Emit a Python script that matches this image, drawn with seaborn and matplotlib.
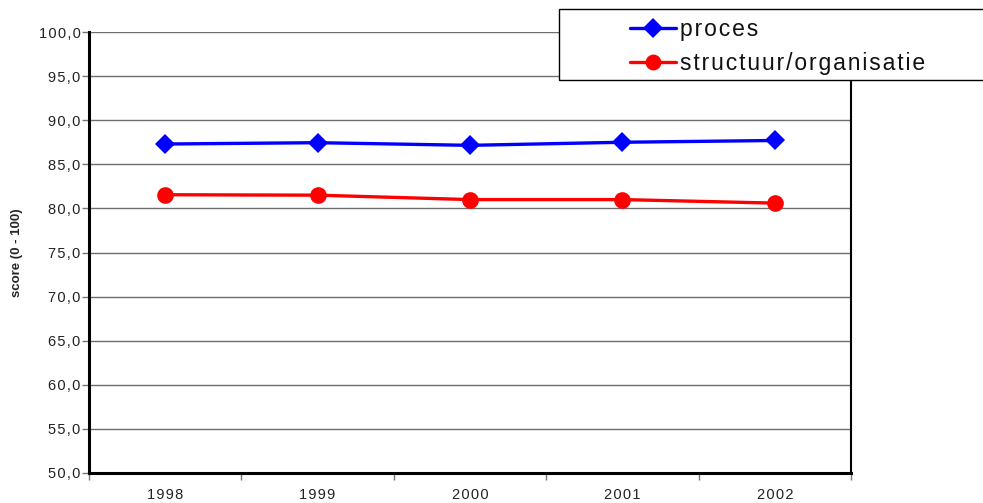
import matplotlib
matplotlib.use("Agg")
import matplotlib.pyplot as plt
from matplotlib.lines import Line2D
from matplotlib.patches import Rectangle
import pandas as pd
import seaborn as sns

# Scores per year (0 - 100)
years = ["1998", "1999", "2000", "2001", "2002"]
proces = [87.3, 87.45, 87.15, 87.5, 87.7]
structuur = [81.55, 81.5, 81.0, 81.0, 80.6]
series_names = ["proces", "structuur/organisatie"]
y_ticks = [50, 55, 60, 65, 70, 75, 80, 85, 90, 95, 100]

colors = {"proces": "#0000FF", "structuur/organisatie": "#FF0000"}
markers = {"proces": "D", "structuur/organisatie": "o"}
msizes = {"proces": 10.5, "structuur/organisatie": 12}

df = pd.DataFrame({
    "pos": list(range(len(years))) * 2,
    "score": proces + structuur,
    "reeks": [series_names[0]] * len(years) + [series_names[1]] * len(years),
})

sns.set_theme(style="white")
plt.rcParams["font.family"] = ["Liberation Sans", "DejaVu Sans"]


def spaced(s):
    """Loosen letter spacing with hair spaces between characters."""
    return "\u200a".join(s)


W, H = 983, 503
fig = plt.figure(figsize=(W / 100, H / 100), dpi=100)
ax = fig.add_axes([89 / W, 1 - 473 / H, (851 - 89) / W, (473 - 32) / H])

for name in series_names:
    sub = df[df["reeks"] == name]
    sns.lineplot(data=sub, x="pos", y="score", ax=ax, color=colors[name],
                 marker=markers[name], markersize=msizes[name],
                 markeredgewidth=0, linewidth=2.4, legend=False, zorder=3)

ax.set_xlim(-0.5, len(years) - 0.5)
ax.set_ylim(50, 100)

# y axis: gridlines every 5 points, comma decimals
ax.set_yticks(y_ticks)
ax.set_yticklabels([spaced(f"{v:.1f}".replace(".", ",")) for v in y_ticks],
                   fontsize=10.5, color="#222222")
ax.yaxis.grid(True, color="#6e6e6e", linewidth=1.0)
ax.xaxis.grid(False)
ax.tick_params(axis="y", which="major", direction="out", length=5, width=1,
               color="#777777", left=True, pad=1)

# x axis: year labels centred, tick marks on category boundaries
ax.set_xticks([i - 0.5 for i in range(len(years) + 1)])
ax.set_xticklabels([])
ax.set_xticks(list(range(len(years))), minor=True)
ax.set_xticklabels([spaced(y) for y in years], minor=True, fontsize=10.5,
                   color="#222222")
ax.tick_params(axis="x", which="major", direction="out", length=5, width=1,
               color="#777777", bottom=True)
ax.tick_params(axis="x", which="minor", length=0, pad=11)

ax.set_xlabel("")
ax.set_ylabel("score (0 - 100)", fontsize=9.5, fontweight="bold")
ax.yaxis.set_label_coords(-66 / (851 - 89), 0.5)

for side in ("left", "bottom"):
    ax.spines[side].set_color("black")
    ax.spines[side].set_linewidth(2.2)
ax.spines["right"].set_color("black")
ax.spines["right"].set_linewidth(1.5)
ax.spines["top"].set_visible(False)

# legend box overlapping the upper right corner
fig.patches.append(Rectangle((559 / W, 1 - 80 / H), (W - 559) / W + 0.01, 71 / H,
                             transform=fig.transFigure, facecolor="white",
                             edgecolor="black", linewidth=1.0, zorder=5))
handles = [Line2D([], [], color=colors[n], marker=markers[n],
                  markersize=msizes[n] * 0.95, markeredgewidth=0, linewidth=2.4)
           for n in series_names]
leg = fig.legend(handles, [spaced(n) for n in series_names], loc="center left",
                 bbox_to_anchor=(630 / W, 1 - 46.5 / H), frameon=False,
                 fontsize=16.5, handlelength=2.0, handletextpad=0.2,
                 labelspacing=0.5, borderpad=0, borderaxespad=0)
leg.set_zorder(6)
for t in leg.get_texts():
    t.set_color("#111111")

fig.savefig("out.png", dpi=100)
